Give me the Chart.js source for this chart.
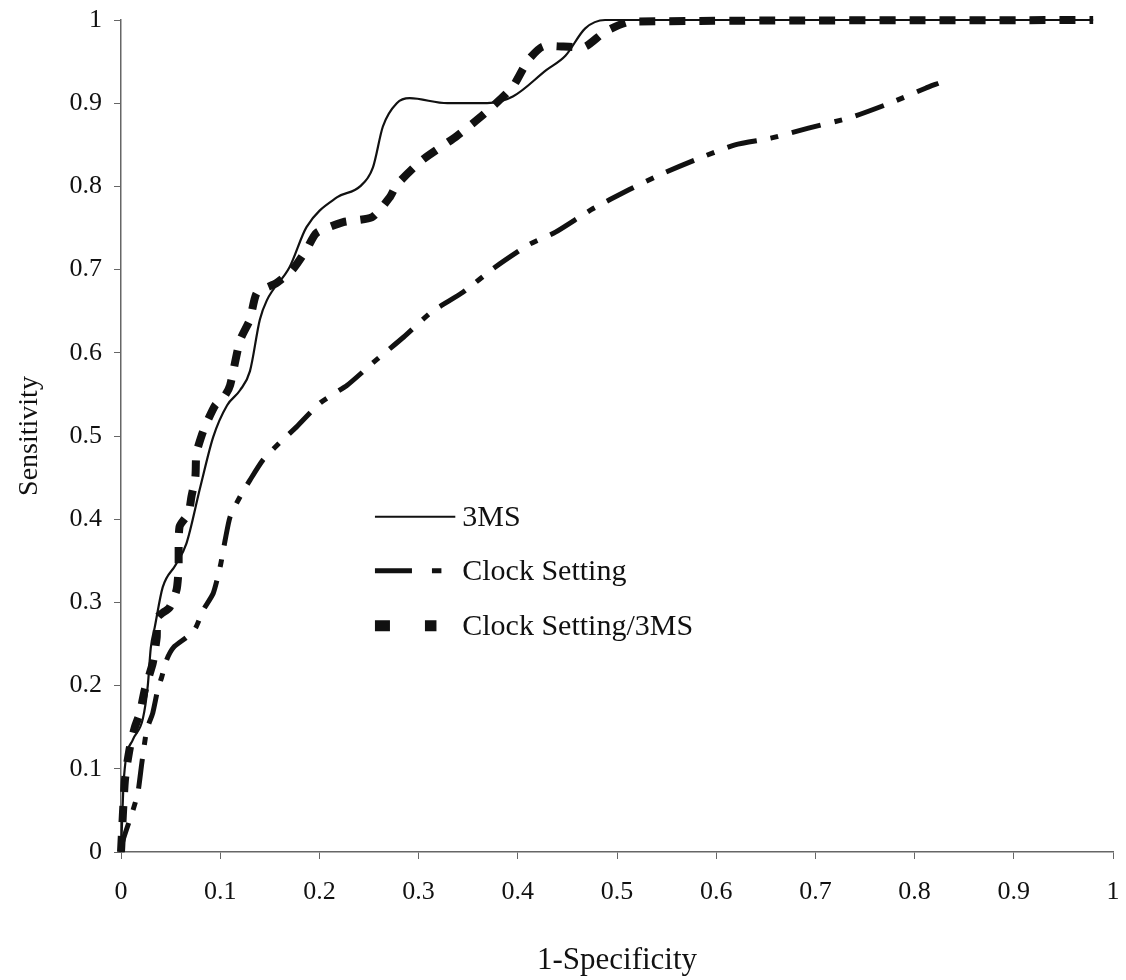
<!DOCTYPE html>
<html>
<head>
<meta charset="utf-8">
<script src="https://cdn.jsdelivr.net/npm/chart.js@4"></script>
<style>
  body { margin: 0; background: #fff; }
  #wrap { width: 1126px; height: 980px; }
</style>
</head>
<body>
<div id="wrap"><canvas id="roc" width="1126" height="980"></canvas></div>
<script>
// ROC curves: [1-specificity, sensitivity]
const threeMs = [
    [0, 0], [0.003, 0.09], [0.012, 0.135], [0.022, 0.16], [0.027, 0.2], [0.03, 0.245],
    [0.034, 0.27], [0.042, 0.318], [0.055, 0.345], [0.066, 0.371], [0.08, 0.439],
    [0.093, 0.499], [0.107, 0.537], [0.12, 0.555], [0.13, 0.578], [0.14, 0.64],
    [0.147, 0.663], [0.17, 0.703], [0.187, 0.751], [0.218, 0.787], [0.241, 0.8],
    [0.254, 0.823], [0.264, 0.872], [0.278, 0.9], [0.291, 0.906], [0.329, 0.9],
    [0.369, 0.9], [0.395, 0.908], [0.429, 0.94], [0.448, 0.957], [0.468, 0.99],
    [0.488, 1], [0.98, 1]
];
const clockSetting = [
    [0, 0], [0.002, 0.014], [0.012, 0.05], [0.017, 0.071], [0.021, 0.107], [0.026, 0.147],
    [0.032, 0.167], [0.037, 0.195], [0.041, 0.21], [0.046, 0.231], [0.053, 0.246],
    [0.066, 0.258], [0.075, 0.269], [0.083, 0.291], [0.093, 0.311], [0.1, 0.343],
    [0.105, 0.375], [0.11, 0.403], [0.12, 0.427], [0.13, 0.447], [0.143, 0.471],
    [0.16, 0.492], [0.177, 0.511], [0.201, 0.54], [0.228, 0.561], [0.255, 0.589],
    [0.285, 0.619], [0.313, 0.649], [0.345, 0.673], [0.376, 0.702], [0.411, 0.73],
    [0.438, 0.745], [0.474, 0.772], [0.512, 0.796], [0.547, 0.816], [0.579, 0.832],
    [0.619, 0.85], [0.655, 0.858], [0.693, 0.87], [0.736, 0.883], [0.775, 0.9],
    [0.811, 0.918], [0.824, 0.924]
];
const clockSetting3Ms = [
    [0, 0], [0.004, 0.087], [0.009, 0.126], [0.014, 0.15], [0.019, 0.167], [0.024, 0.195],
    [0.032, 0.227], [0.036, 0.258], [0.037, 0.282], [0.049, 0.294], [0.056, 0.315],
    [0.058, 0.339], [0.059, 0.391], [0.068, 0.407], [0.071, 0.427], [0.075, 0.451],
    [0.076, 0.479], [0.082, 0.503], [0.086, 0.515], [0.095, 0.537], [0.105, 0.549],
    [0.11, 0.561], [0.12, 0.615], [0.13, 0.64], [0.137, 0.672], [0.157, 0.684],
    [0.173, 0.7], [0.187, 0.724], [0.197, 0.744], [0.224, 0.757], [0.253, 0.763],
    [0.271, 0.787], [0.278, 0.802], [0.304, 0.832], [0.338, 0.86], [0.367, 0.888],
    [0.395, 0.92], [0.41, 0.951], [0.425, 0.968], [0.446, 0.968], [0.468, 0.968],
    [0.488, 0.986], [0.514, 0.998], [0.98, 1]
];

const seriesNames = ['3MS', 'Clock Setting', 'Clock Setting/3MS'];
const xTicks = [0, 0.1, 0.2, 0.3, 0.4, 0.5, 0.6, 0.7, 0.8, 0.9, 1];
const yTicks = [0, 0.1, 0.2, 0.3, 0.4, 0.5, 0.6, 0.7, 0.8, 0.9, 1];

const FONT = '"Liberation Serif", "Times New Roman", serif';
const ink = '#111';

const toPoints = arr => arr.map(p => ({ x: p[0], y: p[1] }));

// legend is drawn inside the plot, below the curves' knee
const legendBox = {
    id: 'legendBox',
    afterDraw(chart) {
        const { ctx, scales: { x, y } } = chart;
        const x0 = x.getPixelForValue(0.256);
        const textX = x.getPixelForValue(0.344);
        const rows = [0.403, 0.338, 0.272];
        const samples = [
            { dash: [], width: 2, end: 0.337 },
            { dash: [37, 20, 10, 60], width: 5, end: 0.323 },
            { dash: [15, 35, 15, 60], width: 11, end: 0.318 }
        ];
        ctx.save();
        rows.forEach((r, i) => {
            const py = y.getPixelForValue(r);
            const s = samples[i];
            ctx.beginPath();
            ctx.setLineDash(s.dash);
            ctx.lineWidth = s.width;
            ctx.strokeStyle = ink;
            ctx.moveTo(x0, py);
            ctx.lineTo(x.getPixelForValue(s.end), py);
            ctx.stroke();
            ctx.setLineDash([]);
            ctx.fillStyle = ink;
            ctx.font = '30px ' + FONT;
            ctx.textBaseline = 'middle';
            ctx.fillText(seriesNames[i], textX, py + 1);
        });
        ctx.restore();
    }
};

const axisCommon = {
    type: 'linear',
    min: 0,
    max: 1,
    border: { display: true, color: '#666', width: 1.5 },
    grid: { drawOnChartArea: false, drawTicks: true, tickLength: 7, color: '#666' },
};

new Chart(document.getElementById('roc'), {
    type: 'line',
    data: {
        datasets: [
            {
                label: seriesNames[0],
                data: toPoints(threeMs),
                borderColor: ink,
                borderWidth: 2.2,
                cubicInterpolationMode: 'monotone',
                pointRadius: 0,
                clip: false,
                order: 1
            },
            {
                label: seriesNames[1],
                data: toPoints(clockSetting),
                borderColor: ink,
                borderWidth: 5,
                borderDash: [30, 14, 8, 14],
                borderCapStyle: 'butt',
                pointRadius: 0,
                tension: 0.2,
                clip: false
            },
            {
                label: seriesNames[2],
                data: toPoints(clockSetting3Ms),
                borderColor: ink,
                borderWidth: 8,
                borderDash: [16, 14],
                pointRadius: 0,
                tension: 0.2,
                clip: false,
                order: 2
            }
        ]
    },
    options: {
        responsive: false,
        animation: false,
        layout: { padding: { top: 20, right: 13, left: 0, bottom: 0 } },
        plugins: {
            legend: { display: false },
            tooltip: { enabled: false }
        },
        scales: {
            x: {
                ...axisCommon,
                afterFit: s => {
                    s.height = 128;
                    s.paddingLeft = 0;
                    s.paddingRight = 0;
                },
                afterBuildTicks: s => { s.ticks = xTicks.map(v => ({ value: v })); },
                ticks: {
                    padding: 18,
                    color: ink,
                    font: { family: FONT, size: 26 },
                    callback: v => String(v)
                },
                title: {
                    display: true,
                    text: '1-Specificity',
                    color: ink,
                    font: { family: FONT, size: 31 },
                    padding: { top: 0, bottom: 1 }
                }
            },
            y: {
                ...axisCommon,
                afterFit: s => {
                    s.width = 121;
                    s.paddingTop = 0;
                    s.paddingBottom = 0;
                },
                afterBuildTicks: s => { s.ticks = yTicks.map(v => ({ value: v })); },
                ticks: {
                    padding: 12,
                    color: ink,
                    font: { family: FONT, size: 26 },
                    callback: v => String(v)
                },
                title: {
                    display: true,
                    text: 'Sensitivity',
                    color: ink,
                    font: { family: FONT, size: 28 },
                    padding: { top: 13, bottom: 0 }
                }
            }
        }
    },
    plugins: [legendBox]
});
</script>
</body>
</html>
